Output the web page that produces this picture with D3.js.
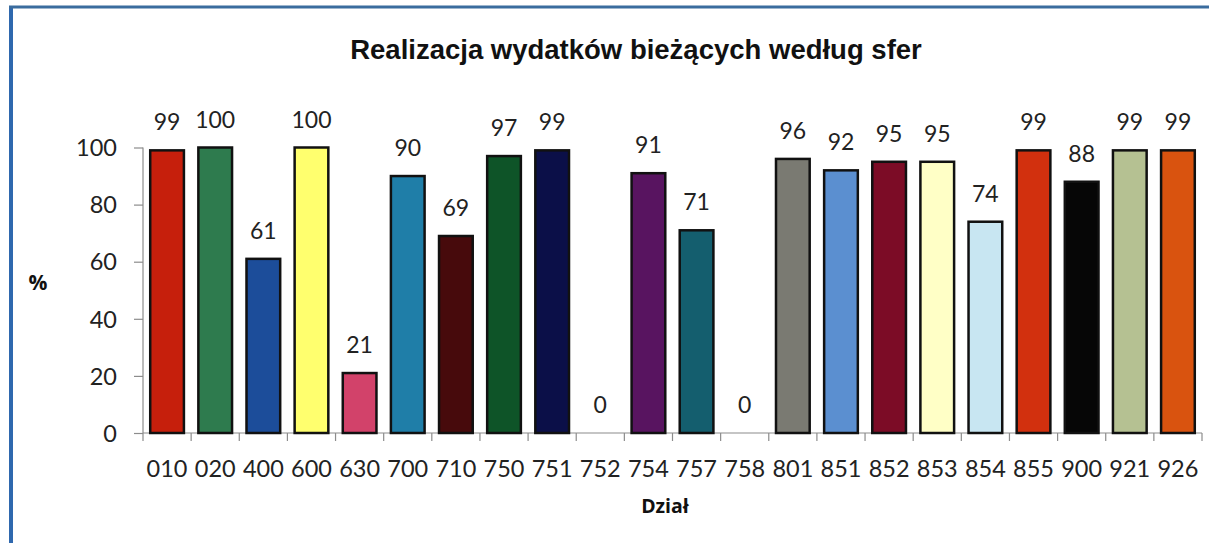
<!DOCTYPE html>
<html><head><meta charset="utf-8">
<script src="https://cdn.jsdelivr.net/npm/d3@7"></script>
<style>
html,body{margin:0;padding:0;background:#fff;}
svg{display:block;}
</style></head>
<body>
<svg id="chart" width="1209" height="543"></svg>
<script>
const categories = ["010","020","400","600","630","700","710","750","751","752","754","757","758","801","851","852","853","854","855","900","921","926"];
const values = [99,100,61,100,21,90,69,97,99,0,91,71,0,96,92,95,95,74,99,88,99,99];
const barColors = ["#c61f0c","#2e7b4e","#1c4d9a","#ffff6e","#d2426a","#1f7ea8","#470a0c","#0e5428","#0b0f48","#888","#581460","#145e6e","#888","#7a7a72","#5b8fd0","#7c0c26","#ffffc6","#c8e6f2","#d2300e","#060606","#b5c192","#d9530f"];
const yTicks = [0,20,40,60,80,100];
const title = "Realizacja wydatków bieżących według sfer";
const yTitle = "%";
const xTitle = "Dział";

const svg = d3.select("#chart");
const font = "Lato, 'Open Sans', sans-serif";

// border
svg.append("line").attr("x1",11).attr("x2",11).attr("y1",6).attr("y2",543).attr("stroke","#2f68ae").attr("stroke-width",4);
svg.append("line").attr("x1",9).attr("x2",1209).attr("y1",7).attr("y2",7).attr("stroke","#3a6c9e").attr("stroke-width",3);

const x = d3.scaleBand().domain(categories).range([143,1202]).paddingInner(0.3).paddingOuter(0.15);
const y = d3.scaleLinear().domain([0,100]).range([433,147.5]);

// axes
const xAxisG = svg.append("g").attr("transform","translate(0,433)");
xAxisG.append("line").attr("x1",143).attr("x2",1202).attr("stroke","#8c8c8c").attr("stroke-width",1.2);
const step = (1202-143)/categories.length;
const tickPos = d3.range(categories.length+1).map(i=>143+i*step);
xAxisG.selectAll("line.t").data(tickPos).enter().append("line").attr("class","t")
  .attr("x1",d=>d).attr("x2",d=>d).attr("y1",0).attr("y2",8).attr("stroke","#8c8c8c").attr("stroke-width",1.2);
svg.append("g").selectAll("text").data(categories).enter().append("text")
  .attr("x",(d,i)=>143+(i+0.5)*step).attr("y",477).attr("text-anchor","middle")
  .attr("font-family",font).attr("font-size",23.5).attr("fill","#222").text(d=>d);

const yAxisG = svg.append("g").attr("transform","translate(143,0)");
const yAxis = d3.axisLeft(y).tickValues(yTicks).tickSize(9).tickPadding(17);
yAxisG.call(yAxis);
yAxisG.select(".domain").attr("stroke","#8c8c8c").attr("stroke-width",1.2).attr("d","M0,"+y(100)+"V"+y(0));
yAxisG.selectAll(".tick line").attr("stroke","#8c8c8c").attr("stroke-width",1.2);
yAxisG.selectAll(".tick text").attr("font-family",font).attr("font-size",23.5).attr("fill","#222").attr("dy","0.35em");

// bars
svg.append("g").selectAll("rect").data(categories.map((c,i)=>({c,v:values[i],col:barColors[i]})).filter(d=>d.v>0))
  .enter().append("rect")
  .attr("x",d=>x(d.c)).attr("width",x.bandwidth())
  .attr("y",d=>y(d.v)).attr("height",d=>y(0)-y(d.v))
  .attr("fill",d=>d.col).attr("stroke","#111").attr("stroke-width",2.5);

// value labels
svg.append("g").selectAll("text").data(categories.map((c,i)=>({c,v:values[i]})))
  .enter().append("text")
  .attr("x",d=>x(d.c)+x.bandwidth()/2).attr("y",d=>y(d.v)-20)
  .attr("text-anchor","middle").attr("font-family",font).attr("font-size",23).attr("fill","#222")
  .text(d=>d.v);

// titles
svg.append("text").attr("x",636).attr("y",59).attr("text-anchor","middle")
  .attr("font-family","'Liberation Sans', Arial, sans-serif").attr("font-weight","bold").attr("font-size",27.5).attr("fill","#111").text(title);
svg.append("text").attr("x",38).attr("y",290).attr("text-anchor","middle")
  .attr("font-family","'Open Sans', sans-serif").attr("font-weight","bold").attr("font-size",21).attr("fill","#111").text(yTitle);
svg.append("text").attr("x",665).attr("y",513).attr("text-anchor","middle")
  .attr("font-family","'Open Sans', sans-serif").attr("font-weight","bold").attr("font-size",19.5).attr("fill","#111").text(xTitle);
</script>
</body></html>
